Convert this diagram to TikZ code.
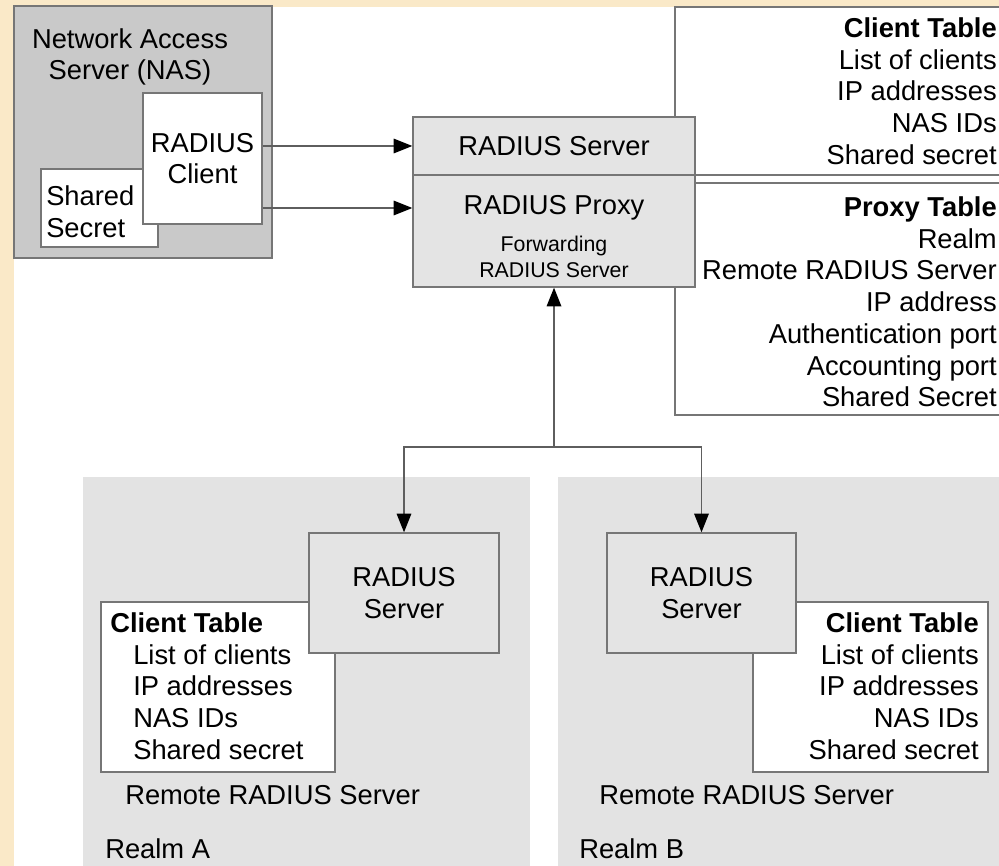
\documentclass[tikz,border=0pt]{standalone}
\usepackage{fontspec}
\setmainfont{Liberation Sans}
\usetikzlibrary{arrows.meta}
\definecolor{parch}{RGB}{250,233,200}
\definecolor{edge}{RGB}{118,118,118}
\definecolor{nasgray}{RGB}{201,201,201}
\definecolor{srvgray}{RGB}{228,228,228}
\definecolor{realmgray}{RGB}{227,227,227}
\begin{document}
\begin{tikzpicture}[x=0.75pt,y=-0.75pt,
    txt/.style={font=\fontsize{20.5}{23.8}\selectfont, inner sep=0pt},
    small/.style={font=\fontsize{16}{19.5}\selectfont, inner sep=0pt},
    head/.style={font=\fontsize{20.5}{23.8}\selectfont\bfseries, inner sep=0pt},
    box/.style={draw=edge, line width=1.1pt, inner sep=0pt},
    link/.style={draw=edge!80!black, line width=0.9pt, -{Triangle[length=14pt,width=11pt,color=black]}}]
    \useasboundingbox (0,0) rectangle (999,866);
    \fill[parch] (0,0) rectangle (999,866);
    \fill[white] (14,7) rectangle (999,866);
    % NAS
    \node[box, fill=nasgray, minimum width=193.5pt, minimum height=189pt] (nas) at (143,132) {};
    \node[txt, align=center] (naslbl) at (130,57) {Network Access\\Server (NAS)};
    \node[box, fill=white, minimum width=87.75pt, minimum height=58.5pt] (secret) at (99.5,208) {};
    \node[txt, align=left, anchor=west] (secretlbl) at (46,212) {Shared\\Secret};
    \node[box, txt, fill=white, align=center, minimum width=89.25pt, minimum height=98.25pt] (client) at (202.5,158.5) {RADIUS\\Client};
    % tables of the proxy
    \draw[edge, line width=1.1pt, fill=white] (1000,7) -- (675,7) -- (675,175) -- (1000,175);
    \draw[edge, line width=1.1pt, fill=white] (1000,183) -- (675,183) -- (675,415) -- (1000,415);
    \node[head, anchor=base east] (cthead) at (997,37.5) {Client Table};
    \foreach \t [count=\i] in {List of clients, IP addresses, NAS IDs, Shared secret}
        \node[txt, anchor=base east] (ct\i) at (997,37.5+31.75*\i) {\t};
    \node[head, anchor=base east] (pthead) at (997,216.5) {Proxy Table};
    \foreach \t [count=\i] in {Realm, Remote RADIUS Server, IP address, Authentication port, Accounting port, Shared Secret}
        \node[txt, anchor=base east] (pt\i) at (997,216.5+31.7*\i) {\t};
    % server / proxy
    \node[box, txt, fill=srvgray, minimum width=211.5pt, minimum height=43.5pt] (srv) at (554,146) {RADIUS Server};
    \node[box, fill=srvgray, minimum width=211.5pt, minimum height=84pt] (proxy) at (554,231) {};
    \node[txt] (proxylbl) at (554,208) {RADIUS Proxy};
    \node[small, align=center] (fwdlbl) at (554,257) {Forwarding\\RADIUS Server};
    % realms
    \fill[realmgray] (83,477) rectangle (530,866);
    \fill[realmgray] (558,477) rectangle (999,866);
    % realm A
    \node[box, fill=white, minimum width=175.5pt, minimum height=127.5pt] (tblA) at (218,687) {};
    \node[box, txt, fill=srvgray, align=center, minimum width=142.5pt, minimum height=90pt] (srvA) at (404,593) {RADIUS\\Server};
    \node[head, anchor=base west] (headA) at (110,632.5) {Client Table};
    \foreach \t [count=\i] in {List of clients, IP addresses, NAS IDs, Shared secret}
        \node[txt, anchor=base west] (a\i) at (133,632.5+31.7*\i) {\t};
    \node[txt, anchor=base west] (remA) at (125,804.5) {Remote RADIUS Server};
    \node[txt, anchor=base west] (realmA) at (105,858) {Realm A};
    % realm B
    \node[box, fill=white, minimum width=176.25pt, minimum height=127.5pt] (tblB) at (870.5,687) {};
    \node[box, txt, fill=srvgray, align=center, minimum width=141.75pt, minimum height=90pt] (srvB) at (701.5,593) {RADIUS\\Server};
    \node[head, anchor=base east] (headB) at (979,632.5) {Client Table};
    \foreach \t [count=\i] in {List of clients, IP addresses, NAS IDs, Shared secret}
        \node[txt, anchor=base east] (b\i) at (979,632.5+31.7*\i) {\t};
    \node[txt, anchor=base west] (remB) at (599,804.5) {Remote RADIUS Server};
    \node[txt, anchor=base west] (realmB) at (579,858) {Realm B};
    % connectors
    \draw[link] (client.east |- srv.west) -- (srv.west);
    \draw[link] (client.east |- proxylbl) -- (proxy.west |- proxylbl);
    \coordinate (split) at (554,447);
    \draw[link] (split) -- (proxy.south);
    \draw[link] (split) -| (srvA.north);
    \draw[link] (split) -| (srvB.north);
\end{tikzpicture}
\end{document}
